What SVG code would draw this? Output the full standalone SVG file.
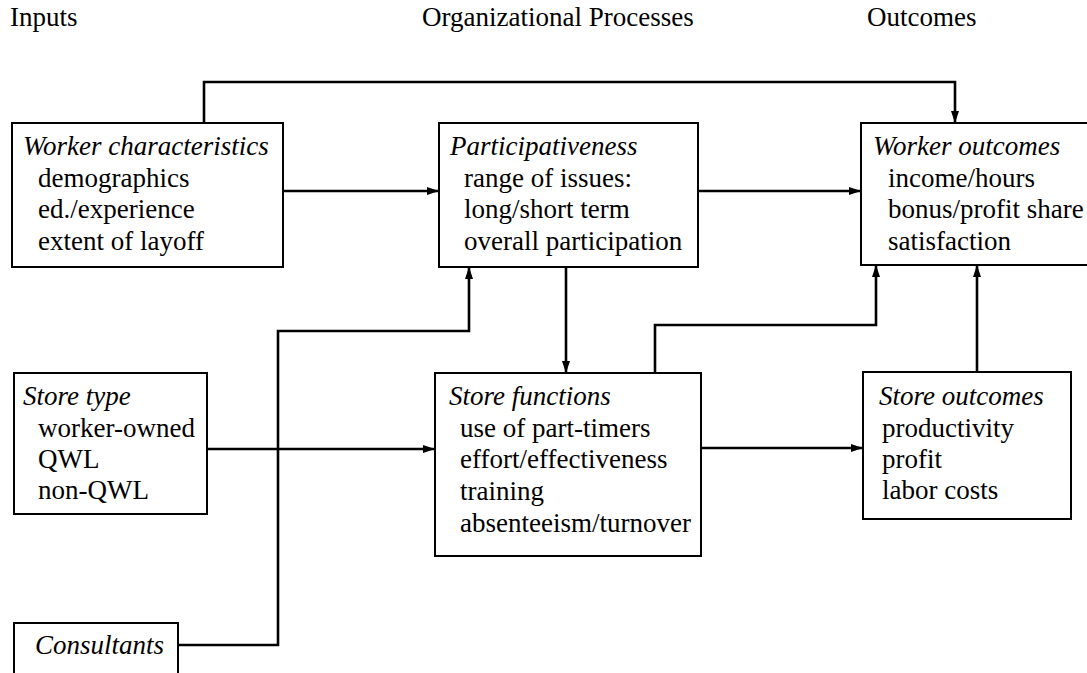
<svg xmlns="http://www.w3.org/2000/svg" width="1087" height="673" viewBox="0 0 1087 673">
<style>
text{font-family:"Liberation Serif","Times New Roman",serif;font-size:27px;fill:#000}
.t{font-style:italic}
.box{fill:#fff;stroke:#000;stroke-width:2}
.c{fill:none;stroke:#000;stroke-width:2.6}
</style>
<defs>
<marker id="a" markerWidth="12" markerHeight="8" refX="11" refY="4" orient="auto" markerUnits="userSpaceOnUse">
<path d="M0,0 L12,4 L0,8 Z" fill="#000"/>
</marker>
</defs>
<rect width="1087" height="673" fill="#fff"/>
<g id="headers">
<text x="10" y="26">Inputs</text>
<text x="422" y="26">Organizational Processes</text>
<text x="867" y="26">Outcomes</text>
</g>
<g id="connectors">
<path class="c" d="M204,123 V82 H955 V122" marker-end="url(#a)"/>
<path class="c" d="M283,191 H438" marker-end="url(#a)"/>
<path class="c" d="M698,191 H860" marker-end="url(#a)"/>
<path class="c" d="M566,267 V372" marker-end="url(#a)"/>
<path class="c" d="M655,373 V325 H876 V266" marker-end="url(#a)"/>
<path class="c" d="M178,645 H278 V331 H469 V268" marker-end="url(#a)"/>
<path class="c" d="M207,449 H434" marker-end="url(#a)"/>
<path class="c" d="M701,448 H862" marker-end="url(#a)"/>
<path class="c" d="M977,372 V266" marker-end="url(#a)"/>
</g>
<g id="worker-characteristics">
<rect class="box" x="12" y="123" width="271" height="144"/>
<text class="t" x="23" y="155">Worker characteristics</text>
<text x="38" y="187">demographics</text>
<text x="38" y="218">ed./experience</text>
<text x="38" y="250">extent of layoff</text>
</g>
<g id="participativeness">
<rect class="box" x="439" y="123" width="259" height="144"/>
<text class="t" x="450" y="155">Participativeness</text>
<text x="464" y="187">range of issues:</text>
<text x="464" y="218">long/short term</text>
<text x="464" y="250">overall participation</text>
</g>
<g id="worker-outcomes">
<rect class="box" x="861" y="123" width="240" height="142"/>
<text class="t" x="873" y="155">Worker outcomes</text>
<text x="888" y="187">income/hours</text>
<text x="888" y="218">bonus/profit share</text>
<text x="888" y="250">satisfaction</text>
</g>
<g id="store-type">
<rect class="box" x="14" y="373" width="193" height="141"/>
<text class="t" x="23" y="405">Store type</text>
<text x="38" y="437">worker-owned</text>
<text x="38" y="468">QWL</text>
<text x="38" y="499">non-QWL</text>
</g>
<g id="store-functions">
<rect class="box" x="435" y="373" width="266" height="183"/>
<text class="t" x="449" y="405">Store functions</text>
<text x="460" y="437">use of part-timers</text>
<text x="460" y="468">effort/effectiveness</text>
<text x="460" y="500">training</text>
<text x="460" y="532">absenteeism/turnover</text>
</g>
<g id="store-outcomes">
<rect class="box" x="863" y="372" width="208" height="147"/>
<text class="t" x="879" y="405">Store outcomes</text>
<text x="882" y="437">productivity</text>
<text x="882" y="468">profit</text>
<text x="882" y="499">labor costs</text>
</g>
<g id="consultants">
<rect class="box" x="14" y="623" width="164" height="80"/>
<text class="t" x="35" y="654">Consultants</text>
</g>
</svg>
